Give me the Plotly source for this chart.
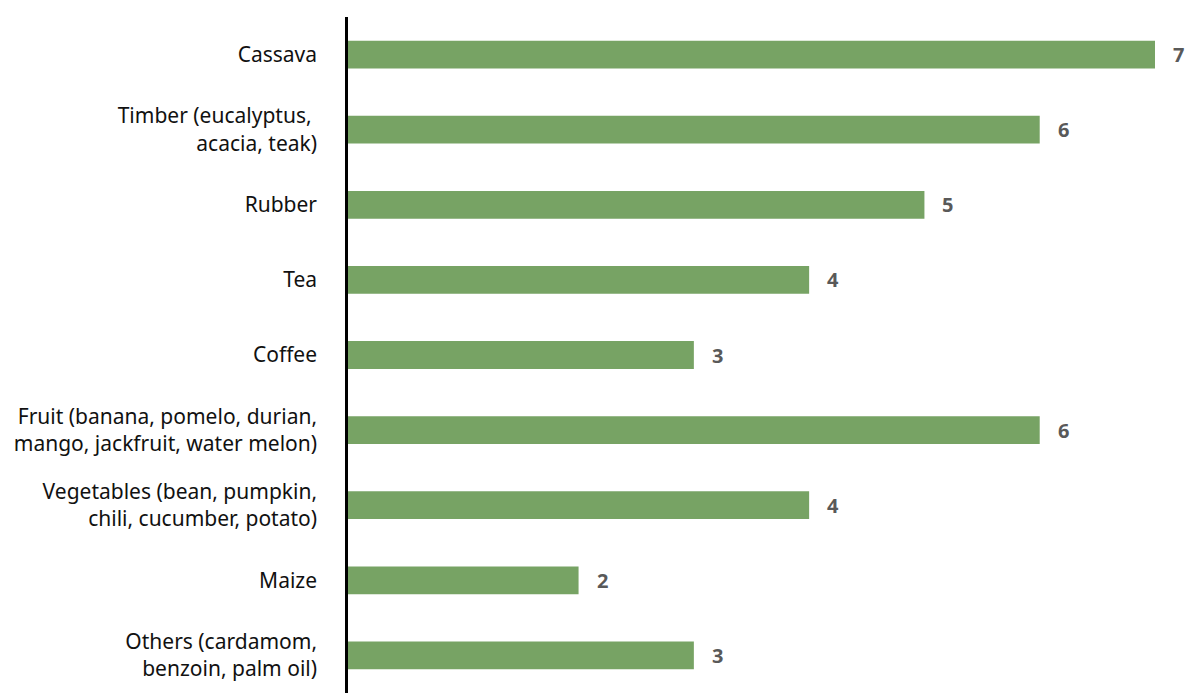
import plotly.graph_objects as go

# Crops and the number of cases reporting each
crops = [
    "Cassava",
    "Timber (eucalyptus, <br>acacia, teak)",
    "Rubber",
    "Tea",
    "Coffee",
    "Fruit (banana, pomelo, durian,<br>mango, jackfruit, water melon)",
    "Vegetables (bean, pumpkin,<br>chili, cucumber, potato)",
    "Maize",
    "Others (cardamom,<br>benzoin, palm oil)",
]
counts = [7, 6, 5, 4, 3, 6, 4, 2, 3]

BAR_COLOR = "#77A364"
LABEL_COLOR = "#595959"
FONT = "Noto Sans, Open Sans, sans-serif"

fig = go.Figure(
    go.Bar(
        x=counts,
        y=crops,
        orientation="h",
        marker=dict(color=BAR_COLOR, line=dict(width=0)),
        width=0.37,
        hoverinfo="x+y",
    )
)

# Value labels to the right of each bar
for crop, n in zip(crops, counts):
    fig.add_annotation(
        x=n, y=crop, text=f"<b>{n}</b>", showarrow=False,
        xanchor="left", xshift=16,
        font=dict(family=FONT, size=20, color=LABEL_COLOR),
    )

fig.update_layout(
    width=1194, height=693,
    margin=dict(l=348, r=39, t=17, b=0),
    paper_bgcolor="white", plot_bgcolor="white",
    font=dict(family=FONT, size=21, color="#111111"),
    showlegend=False,
    bargap=0.63,
)
fig.update_xaxes(
    range=[0, 7], showgrid=False, zeroline=False,
    showticklabels=False, showline=False, fixedrange=True,
)
fig.update_yaxes(
    autorange="reversed", showgrid=False, zeroline=False,
    showline=True, linecolor="black", linewidth=2.5,
    ticks="", ticklabelstandoff=24,
    tickfont=dict(family=FONT, size=21, color="#111111"),
)

fig.write_html("out.html")
